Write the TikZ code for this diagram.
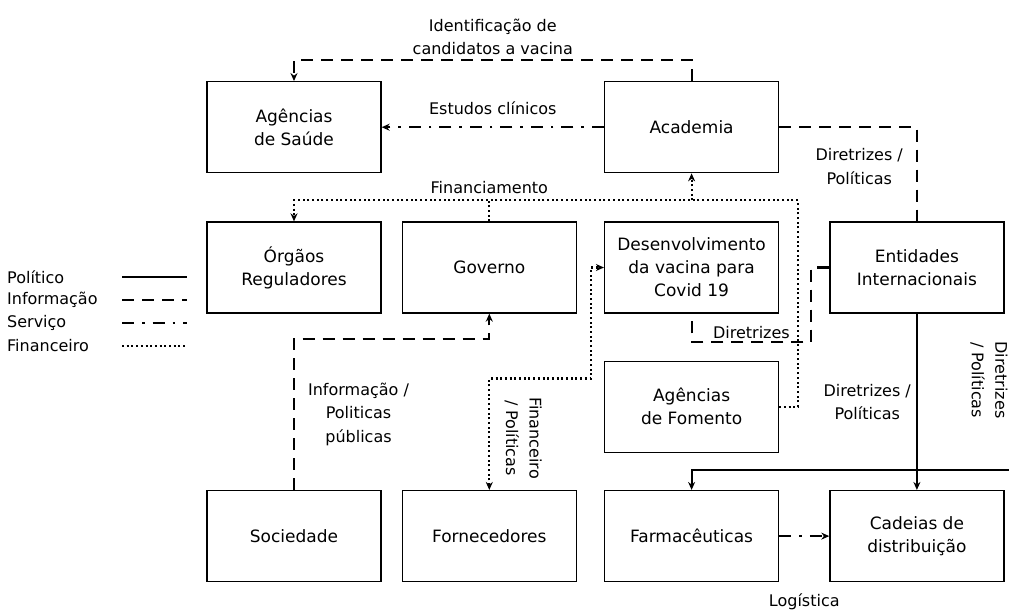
\documentclass[tikz,border=0pt]{standalone}
\usepackage{fontspec}
\setmainfont{DejaVu Sans}
\usetikzlibrary{arrows.meta,positioning,calc}

\begin{document}
\begin{tikzpicture}[x=1pt, y=-1pt, >={Stealth[length=8pt,width=7pt]},
    caixa/.style={draw, line width=1.3pt, minimum width=174pt, minimum height=91pt, align=center, font=\fontsize{17}{23}\selectfont},
    rotulo/.style={align=center, font=\fontsize{16}{23.5}\selectfont, inner sep=1pt},
    politico/.style={line width=2.2pt},
    info/.style={line width=2.2pt, dash pattern=on 12pt off 8pt},
    servico/.style={line width=2.2pt, dash pattern=on 12pt off 8pt on 2.5pt off 8pt},
    financ/.style={line width=2.2pt, dash pattern=on 2pt off 2.7pt}]
    \useasboundingbox (0,0) rectangle (1009,610);
    \node[caixa] (orgaos) at (294,267.5) {Órgãos\\Reguladores};
    \node[caixa, right=20pt of orgaos] (governo) {Governo};
    \node[caixa, right=27pt of governo] (desenv) {Desenvolvimento\\da vacina para\\Covid 19};
    \node[caixa, right=50pt of desenv] (entidades) {Entidades\\Internacionais};
    \node[caixa, above=48pt of orgaos] (saude) {Agências\\de Saúde};
    \node[caixa, above=48pt of desenv] (academia) {Academia};
    \node[caixa, below=47pt of desenv] (fomento) {Agências\\de Fomento};
    \node[caixa, below=37pt of fomento] (farma) {Farmacêuticas};
    \node[caixa, left=27pt of farma] (fornec) {Fornecedores};
    \node[caixa, left=20pt of fornec] (sociedade) {Sociedade};
    \node[caixa, right=50pt of farma] (cadeias) {Cadeias de\\distribuição};

    \draw[info,->] (academia.north) -- ++(0,-21) -| (saude.north)
        node[rotulo, pos=0.25, above=3pt] {Identificação de\\candidatos a vacina};
    \draw[servico,->] (academia) -- (saude) node[rotulo, midway, above=10pt] {Estudos clínicos};
    \draw[financ,->] (fomento.east) -- ++(19,0) |- ($(academia.south)+(0,27)$) coordinate (fin) -| (orgaos.north);
    \draw[financ,->] (fin) -- (academia.south);
    \draw[financ] (governo.north) -- (governo.north |- fin) node[rotulo, above=5pt] {Financiamento};
    \draw[info] (academia.east) -| (entidades.north) node[rotulo, pos=0.71, left=12pt] {Diretrizes /\\Políticas};
    \draw[info] (entidades.west) -- ++(-18,0) |- node[rotulo, pos=0.75, above=1pt] {Diretrizes} ($(desenv.south)+(0,28)$) -- (desenv.south);
    \draw[info,->] (sociedade.north) |- node[rotulo, pos=0.25, right=12pt] {Informação /\\Politicas\\públicas} ($(governo.south)+(0,25)$) -- (governo.south);
    \draw[financ,<->] (fornec.north) |- ($(desenv.west)+(-13,111)$) |- (desenv.west);
    \node[rotulo, rotate=-90] (lblFin) at ($(fornec.north)+(34,-52)$) {Financeiro\\/ Políticas};
    \draw[politico,->] (entidades) -- (cadeias) node[rotulo, midway, left=4pt] {Diretrizes /\\Políticas};
    \coordinate (borda) at (1009,470);
    \draw[politico,->] (borda) -| (farma.north);
    \node[rotulo, rotate=-90] (lblDir) at (989,380) {Diretrizes\\/ Políticas};
    \draw[servico,->] (farma) -- (cadeias);
    \node[rotulo] (lblLog) at ($(farma.east)!.5!(cadeias.west)+(0,66)$) {Logística};

    \foreach \nome/\estilo [count=\i] in {Político/politico, Informação/info, Serviço/servico, Financeiro/financ}{
        \node[rotulo, anchor=west] (leg\i) at (6,254+23*\i) {\nome};
        \draw[\estilo] (122,254+23*\i) -- (187,254+23*\i);
    }
\end{tikzpicture}
\end{document}
